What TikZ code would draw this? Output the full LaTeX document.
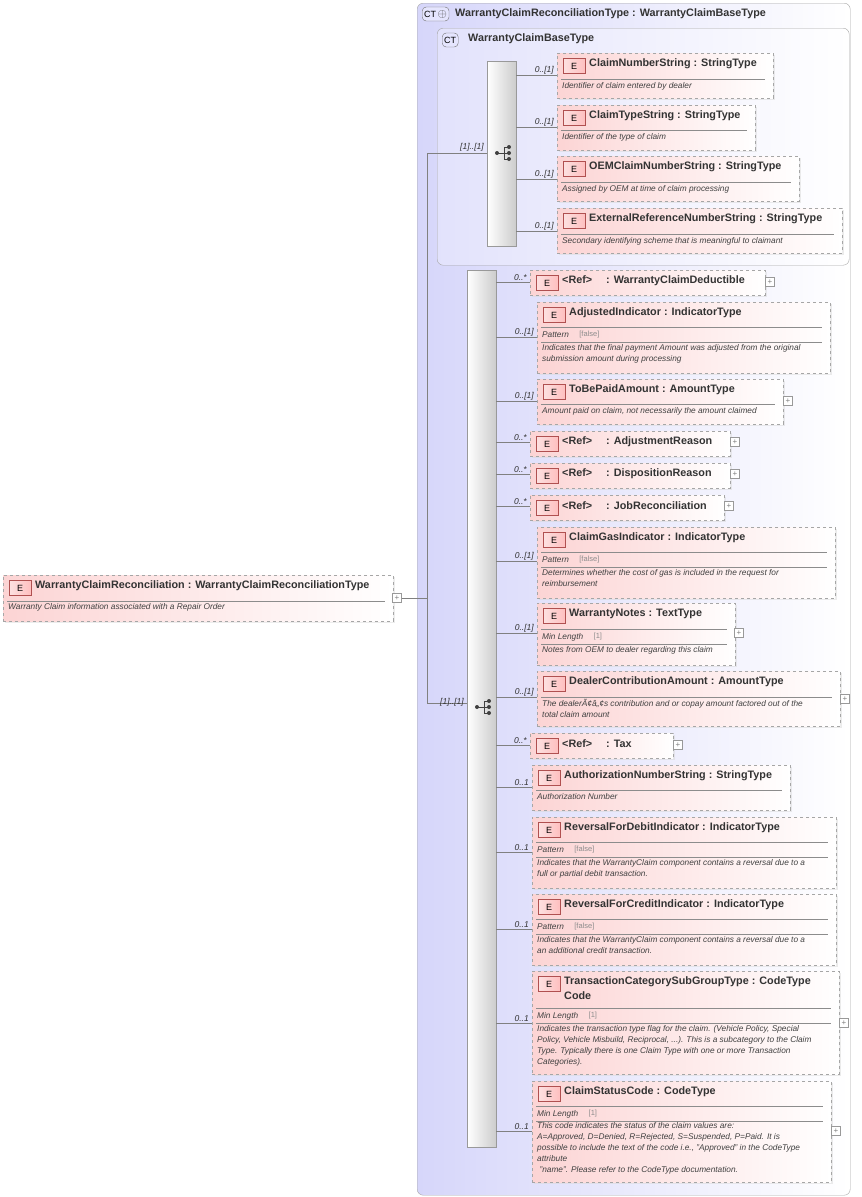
\documentclass[tikz,border=0pt]{standalone}
\usepackage{fontspec}
\setmainfont{Liberation Sans}
\usetikzlibrary{shadows}
\definecolor{lav}{HTML}{D6D6FA}
\definecolor{pinkf}{HTML}{FCD4D4}
\definecolor{ebd}{HTML}{B05050}
\definecolor{gline}{HTML}{808080}
\tikzset{
 ttl/.style={font=\fontsize{10.8}{13}\selectfont\bfseries, text=black!80, inner sep=0, anchor=west},
 desc/.style={font=\fontsize{8.3}{11}\selectfont\itshape, text=black!75, inner sep=0, align=left, anchor=north west},
 fac/.style={font=\fontsize{7.5}{9}\selectfont, text=black!45, inner sep=0, anchor=west},
 card/.style={font=\fontsize{8.5}{10}\selectfont\itshape, text=black!80, inner sep=0, anchor=south east},
 elbox/.style={draw=black!35, dashed, left color=pinkf, right color=white, inner sep=0, anchor=north west,
   drop shadow={shadow xshift=2pt, shadow yshift=-2pt, fill=black!15}},
 ebadge/.style={draw=ebd, left color=pinkf!70, right color=pinkf!70!red!60, minimum width=22pt, minimum height=15pt, inner sep=0, font=\fontsize{9}{10}\selectfont, anchor=west},
 sepl/.style={draw=black!45, line width=0.5pt},
 con/.style={draw=gline, line width=0.6pt},
 plusb/.style={draw=black!40, fill=white, minimum size=9pt, inner sep=0, font=\fontsize{8}{8}\selectfont, text=black!50},
 seqbar/.style={draw=black!40, left color=white, right color=black!20, inner sep=0, anchor=north west},
 ctbox/.style={draw=black!35, rounded corners=6pt, left color=lav, right color=white, inner sep=0, anchor=north west},
 ctbadge/.style={draw=black!55, rounded corners=4pt, fill=lav!70!blue!25, font=\fontsize{9}{10}\selectfont, inner sep=2pt, minimum height=14pt, anchor=west},
}
\newcommand\EB[6]{%
 \pgfmathsetmacro\ww{#4-#2}\pgfmathsetmacro\hh{#5-#3}%
 \node[elbox, minimum width=\ww pt, minimum height=\hh pt] (#1) at (#2,#3) {};
 \node[ebadge] (#1b) at ([xshift=6pt]#1.north west |- 0,#3+13) {E};
 \node[ttl] (#1t) at ([xshift=32pt]#1.north west |- 0,#3+11) {#6};}
\newcommand\SEP[2]{\draw[sepl] ([xshift=4pt]#1.west |- 0,#2) -- ([xshift=-8pt]#1.east |- 0,#2);}
\newcommand\DESC[3]{\node[desc] (#1d) at ([xshift=5pt]#1.west |- 0,#2) {#3};}
\newcommand\FACET[4]{\node[desc, anchor=west] (#1f) at ([xshift=5pt]#1.west |- 0,#2) {#3}; \node[fac] (#1v) at ([xshift=10pt]#1f.east) {#4};}
\newcommand\CON[4]{\draw[con] (#1.east |- 0,#3) -- (#2.west |- 0,#3); \node[card] (#2c) at ([xshift=-3pt,yshift=1pt]#2.west |- 0,#3) {#4};}
\newcommand\PLUS[3]{\node[plusb] (#1p) at (#2,#3) {+};}
\newcommand\SEQICON[1]{%
 \draw[black!75, line width=1pt] ([xshift=-7pt]#1.center) -- (#1.center)
   ([yshift=6pt]#1.center) -- ([yshift=-6pt]#1.center)
   ([yshift=6pt]#1.center) -- ([xshift=5pt,yshift=6pt]#1.center)
   (#1.center) -- ([xshift=5pt]#1.center)
   ([yshift=-6pt]#1.center) -- ([xshift=5pt,yshift=-6pt]#1.center);
 \fill[black!75] ([xshift=-7pt]#1.center) circle (2pt) ([xshift=5pt,yshift=6pt]#1.center) circle (2pt) ([xshift=5pt]#1.center) circle (2pt) ([xshift=5pt,yshift=-6pt]#1.center) circle (2pt);}
\begin{document}
\begin{tikzpicture}[x=1pt,y=-1pt]
\useasboundingbox (0,0) rectangle (862,1197);
\node[ctbox, minimum width=433pt, minimum height=1192pt] (ct1) at (417,3) {};
\node[ctbadge] (ct1b) at (422,14) {CT\,\textcolor{black!70}{\large$\oplus$}};
\node[ttl] (ct1t) at (455,14) {WarrantyClaimReconciliationType : WarrantyClaimBaseType};
\node[ctbox, minimum width=412pt, minimum height=237pt, left color=lav!70!white] (ct2) at (437,28) {};
\node[ctbadge] (ct2b) at (442,40) {CT};
\node[ttl] (ct2t) at (468,39) {WarrantyClaimBaseType};
\node[seqbar, minimum width=29pt, minimum height=185pt] (s1) at (487,61) {};
\node[seqbar, minimum width=29pt, minimum height=877pt] (s2) at (467,270) {};
\node[inner sep=0] (s1i) at (504,153) {}; \SEQICON{s1i}
\node[inner sep=0] (s2i) at (484,707) {}; \SEQICON{s2i}
\EB{m}{3}{575}{393}{621}{WarrantyClaimReconciliation : WarrantyClaimReconciliationType}
\SEP{m}{601}
\DESC{m}{603}{Warranty Claim information associated with a Repair Order}
\PLUS{m}{397}{598}
\coordinate (j) at (427,598);
\draw[con] (mp.east) -- (j);
\draw[con] (427,153) -- (427,703);
\draw[con] (427,153) -- (s1.west |- 0,153);
\draw[con] (427,703) -- (s2.west |- 0,703);
\node[card] at (484,151) {[1]..[1]};
\node[card] at (464,706) {[1]..[1]};
\EB{a1}{557}{53}{773}{98}{ClaimNumberString : StringType}\SEP{a1}{79}\DESC{a1}{82}{Identifier of claim entered by dealer}\CON{s1}{a1}{75}{0..[1]}
\EB{a2}{557}{105}{755}{150}{ClaimTypeString : StringType}\SEP{a2}{130}\DESC{a2}{133}{Identifier of the type of claim}\CON{s1}{a2}{127}{0..[1]}
\EB{a3}{557}{156}{799}{201}{OEMClaimNumberString : StringType}\SEP{a3}{182}\DESC{a3}{185}{Assigned by OEM at time of claim processing}\CON{s1}{a3}{179}{0..[1]}
\EB{a4}{557}{208}{842}{253}{ExternalReferenceNumberString : StringType}\SEP{a4}{234}\DESC{a4}{237}{Secondary identifying scheme that is meaningful to claimant}\CON{s1}{a4}{231}{0..[1]}
\EB{b1}{530}{270}{765}{295}{<Ref>\hspace{14pt}: WarrantyClaimDeductible}\CON{s2}{b1}{282}{0..*}\PLUS{b1}{770}{282}
\EB{b2}{537}{302}{830}{373}{AdjustedIndicator : IndicatorType}\SEP{b2}{327}\FACET{b2}{335}{Pattern}{[false]}\SEP{b2}{342}\DESC{b2}{344}{Indicates that the final payment Amount was adjusted from the original\\submission amount during processing}\CON{s2}{b2}{337}{0..[1]}
\EB{b3}{537}{379}{783}{424}{ToBePaidAmount : AmountType}\SEP{b3}{404}\DESC{b3}{407}{Amount paid on claim, not necessarily the amount claimed}\CON{s2}{b3}{401}{0..[1]}\PLUS{b3}{788}{401}
\EB{b4}{530}{431}{730}{456}{<Ref>\hspace{14pt}: AdjustmentReason}\CON{s2}{b4}{442}{0..*}\PLUS{b4}{735}{442}
\EB{b5}{530}{463}{730}{488}{<Ref>\hspace{14pt}: DispositionReason}\CON{s2}{b5}{474}{0..*}\PLUS{b5}{735}{474}
\EB{b6}{530}{495}{724}{520}{<Ref>\hspace{14pt}: JobReconciliation}\CON{s2}{b6}{506}{0..*}\PLUS{b6}{729}{506}
\EB{b7}{537}{527}{835}{598}{ClaimGasIndicator : IndicatorType}\SEP{b7}{552}\FACET{b7}{560}{Pattern}{[false]}\SEP{b7}{567}\DESC{b7}{569}{Determines whether the cost of gas is included in the request for\\reimbursement}\CON{s2}{b7}{561}{0..[1]}
\EB{b8}{537}{603}{735}{665}{WarrantyNotes : TextType}\SEP{b8}{629}\FACET{b8}{637}{Min Length}{[1]}\SEP{b8}{644}\DESC{b8}{646}{Notes from OEM to dealer regarding this claim}\CON{s2}{b8}{633}{0..[1]}\PLUS{b8}{739}{633}
\EB{b9}{537}{671}{840}{726}{DealerContributionAmount : AmountType}\SEP{b9}{697}\DESC{b9}{699}{The dealerÃ¢â„¢s contribution and or copay amount factored out of the\\total claim amount}\CON{s2}{b9}{697}{0..[1]}\PLUS{b9}{845}{699}
\EB{b10}{530}{733}{673}{758}{<Ref>\hspace{14pt}: Tax}\CON{s2}{b10}{745}{0..*}\PLUS{b10}{678}{745}
\EB{b11}{532}{765}{790}{810}{AuthorizationNumberString : StringType}\SEP{b11}{790}\DESC{b11}{793}{Authorization Number}\CON{s2}{b11}{787}{0..1}
\EB{b12}{532}{817}{836}{888}{ReversalForDebitIndicator : IndicatorType}\SEP{b12}{842}\FACET{b12}{850}{Pattern}{[false]}\SEP{b12}{857}\DESC{b12}{859}{Indicates that the WarrantyClaim component contains a reversal due to a\\full or partial debit transaction.}\CON{s2}{b12}{852}{0..1}
\EB{b13}{532}{894}{836}{965}{ReversalForCreditIndicator : IndicatorType}\SEP{b13}{919}\FACET{b13}{927}{Pattern}{[false]}\SEP{b13}{934}\DESC{b13}{936}{Indicates that the WarrantyClaim component contains a reversal due to a\\an additional credit transaction.}\CON{s2}{b13}{929}{0..1}
\EB{b14}{532}{971}{839}{1074}{TransactionCategorySubGroupType : CodeType}\node[ttl] (b14t2) at (564,996) {Code};\SEP{b14}{1008}\FACET{b14}{1016}{Min Length}{[1]}\SEP{b14}{1023}\DESC{b14}{1025}{Indicates the transaction type flag for the claim. (Vehicle Policy, Special\\Policy, Vehicle Misbuild, Reciprocal, ...). This is a subcategory to the Claim\\Type. Typically there is one Claim Type with one or more Transaction\\Categories).}\CON{s2}{b14}{1023}{0..1}\PLUS{b14}{844}{1023}
\EB{b15}{532}{1081}{831}{1182}{ClaimStatusCode : CodeType}\SEP{b15}{1106}\FACET{b15}{1114}{Min Length}{[1]}\SEP{b15}{1121}\DESC{b15}{1122}{This code indicates the status of the claim values are:\\A=Approved, D=Denied, R=Rejected, S=Suspended, P=Paid. It is\\possible to include the text of the code i.e., "Approved" in the CodeType\\attribute\\\ "name". Please refer to the CodeType documentation.}\CON{s2}{b15}{1131}{0..1}\PLUS{b15}{836}{1131}
\end{tikzpicture}
\end{document}
